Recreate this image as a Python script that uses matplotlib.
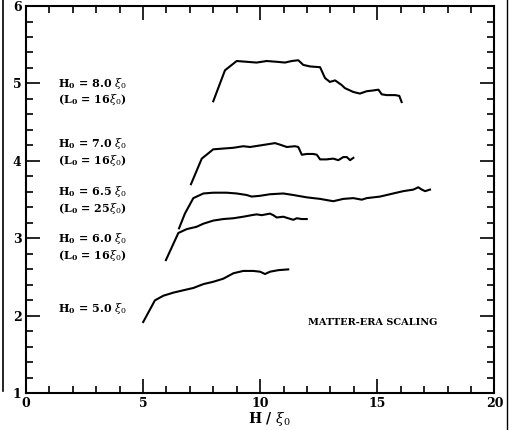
import matplotlib
matplotlib.use("Agg")
import matplotlib.pyplot as plt
from matplotlib.lines import Line2D
from matplotlib.ticker import MultipleLocator

# curves (H / xi0, y)
h80_x = [8.00, 8.50, 9.00, 9.43, 9.85, 10.28, 10.71, 11.06, 11.35, 11.63, 11.84, 12.13, 12.56,
         12.77, 12.98, 13.20, 13.48, 13.62, 13.98, 14.26, 14.55, 14.83, 15.05, 15.19, 15.40,
         15.76, 15.94, 16.04]
h80_y = [4.77, 5.17, 5.29, 5.28, 5.27, 5.29, 5.28, 5.27, 5.29, 5.30, 5.24, 5.22, 5.21,
         5.07, 5.02, 5.04, 4.98, 4.94, 4.89, 4.87, 4.90, 4.91, 4.92, 4.86, 4.85,
         4.85, 4.84, 4.76]

h70_x = [7.05, 7.51, 8.00, 8.43, 8.86, 9.28, 9.57, 10.00, 10.42, 10.64, 10.85, 11.14, 11.49,
         11.63, 11.78, 11.99, 12.27, 12.42, 12.56, 12.84, 13.12, 13.34, 13.55, 13.70, 13.84, 13.98]
h70_y = [3.70, 4.03, 4.15, 4.16, 4.17, 4.19, 4.18, 4.20, 4.22, 4.23, 4.21, 4.18, 4.19,
         4.18, 4.08, 4.09, 4.09, 4.08, 4.02, 4.02, 4.03, 4.01, 4.05, 4.05, 4.01, 4.04]

h65_x = [6.54, 6.79, 7.15, 7.58, 8.00, 8.57, 9.00, 9.43, 9.64, 10.00, 10.42, 10.99, 11.42,
         11.99, 12.56, 13.12, 13.55, 13.98, 14.34, 14.55, 15.12, 15.68, 16.11, 16.54, 16.75,
         16.90, 17.04, 17.25]
h65_y = [3.13, 3.32, 3.52, 3.58, 3.59, 3.59, 3.58, 3.56, 3.54, 3.55, 3.57, 3.58, 3.56,
         3.53, 3.51, 3.48, 3.51, 3.52, 3.50, 3.52, 3.54, 3.58, 3.61, 3.63, 3.66,
         3.63, 3.61, 3.63]

h60_x = [5.98, 6.51, 6.87, 7.29, 7.58, 8.00, 8.43, 8.86, 9.28, 9.64, 9.85, 10.07, 10.42,
         10.56, 10.71, 10.99, 11.20, 11.42, 11.56, 11.78, 11.99]
h60_y = [2.72, 3.07, 3.12, 3.15, 3.19, 3.23, 3.25, 3.26, 3.28, 3.30, 3.31, 3.30, 3.32,
         3.30, 3.27, 3.28, 3.26, 3.24, 3.26, 3.25, 3.25]

h50_x = [5.01, 5.51, 5.87, 6.30, 6.72, 7.15, 7.58, 8.00, 8.43, 8.86, 9.28, 9.71, 10.00,
         10.21, 10.42, 10.78, 11.20]
h50_y = [1.92, 2.20, 2.26, 2.30, 2.33, 2.36, 2.41, 2.44, 2.48, 2.55, 2.58, 2.58, 2.57,
         2.54, 2.57, 2.59, 2.60]

labels = [r"H$_{\mathbf{0}}$ = 8.0 $\xi_0$", r"(L$_{\mathbf{0}}$ = 16$\xi_0$)",
          r"H$_{\mathbf{0}}$ = 7.0 $\xi_0$", r"(L$_{\mathbf{0}}$ = 16$\xi_0$)",
          r"H$_{\mathbf{0}}$ = 6.5 $\xi_0$", r"(L$_{\mathbf{0}}$ = 25$\xi_0$)",
          r"H$_{\mathbf{0}}$ = 6.0 $\xi_0$", r"(L$_{\mathbf{0}}$ = 16$\xi_0$)",
          r"H$_{\mathbf{0}}$ = 5.0 $\xi_0$"]
label_y = [5.00, 4.79, 4.22, 4.00, 3.61, 3.39, 3.00, 2.78, 2.10]

plt.rcParams["font.family"] = "DejaVu Serif"
plt.rcParams["mathtext.fontset"] = "dejavuserif"

fig = plt.figure(figsize=(5.21, 4.30), dpi=100)
ax = fig.add_axes([0.0495, 0.0853, 0.8995, 0.9007])

for xs, ys in [(h80_x, h80_y), (h70_x, h70_y), (h65_x, h65_y), (h60_x, h60_y), (h50_x, h50_y)]:
    ax.plot(xs, ys, color="black", lw=1.5)

for txt, yy in zip(labels, label_y):
    ax.text(1.38, yy, txt, fontsize=8, fontweight="bold", va="center", ha="left")

ax.text(14.8, 1.92, "MATTER-ERA SCALING", fontsize=7, fontweight="bold",
        ha="center", va="center")

ax.set_xlim(0, 20)
ax.set_ylim(1, 6)
ax.xaxis.set_major_locator(MultipleLocator(5))
ax.xaxis.set_minor_locator(MultipleLocator(1))
ax.yaxis.set_major_locator(MultipleLocator(1))
ax.yaxis.set_minor_locator(MultipleLocator(0.2))
ax.tick_params(which="both", direction="in", top=True, right=True, width=1.2,
               labelsize=9, pad=3)
ax.tick_params(which="major", length=10)
ax.tick_params(which="minor", length=5)
for lab in ax.get_xticklabels() + ax.get_yticklabels():
    lab.set_fontweight("bold")
for s in ax.spines.values():
    s.set_linewidth(1.5)

# axis title sits just under the "10" tick label
fig.text(0.518, 0.004, r"H / $\xi_0$", fontsize=10, fontweight="bold",
         ha="center", va="bottom")

# edges of the neighbouring scanned panels
fig.add_artist(Line2D([0.006, 0.006], [0.09, 1.0], color="black", lw=1.2))
fig.add_artist(Line2D([0.973, 0.973], [0.0, 1.0], color="black", lw=1.0))

fig.savefig("out.png", dpi=100)
